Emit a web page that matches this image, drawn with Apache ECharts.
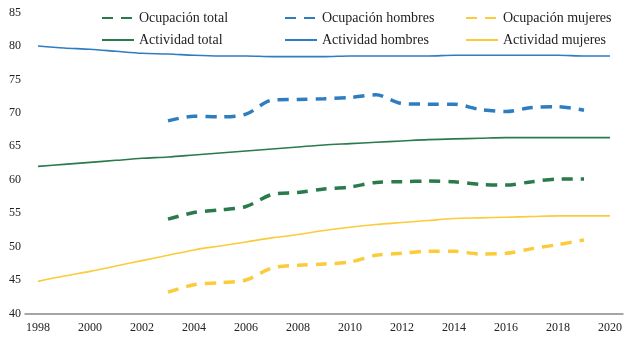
<!DOCTYPE html>
<html>
<head>
<meta charset="utf-8">
<script src="https://cdn.jsdelivr.net/npm/echarts@6/dist/echarts.min.js"></script>
<style>
  html, body { margin: 0; padding: 0; background: #fff; }
  #chart { width: 627px; height: 338px; }
</style>
</head>
<body>
<div id="chart"></div>
<script>
// años
const years = ['1998','1999','2000','2001','2002','2003','2004','2005','2006','2007','2008','2009','2010','2011','2012','2013','2014','2015','2016','2017','2018','2019','2020']

// tasas de ocupación (desde 2003)
const ocupacionTotal   = [null,null,null,null,null,54.1,55.1,55.5,56.0,57.8,58.1,58.6,58.9,59.6,59.7,59.8,59.7,59.3,59.2,59.7,60.1,60.1,null]
const ocupacionHombres = [null,null,null,null,null,68.8,69.5,69.4,69.8,71.9,72.0,72.1,72.3,72.7,71.4,71.3,71.3,70.5,70.2,70.8,70.9,70.4,null]
const ocupacionMujeres = [null,null,null,null,null,43.2,44.3,44.6,45.0,46.8,47.2,47.4,47.7,48.7,49.0,49.3,49.3,48.9,49.0,49.7,50.3,51.0,null]

// tasas de actividad
const actividadTotal   = [62.0,62.3,62.6,62.9,63.2,63.4,63.7,64.0,64.3,64.6,64.9,65.2,65.4,65.6,65.8,66.0,66.1,66.2,66.3,66.3,66.3,66.3,66.3]
const actividadHombres = [80.0,79.7,79.5,79.2,78.9,78.8,78.6,78.5,78.5,78.4,78.4,78.4,78.5,78.5,78.5,78.5,78.6,78.6,78.6,78.6,78.6,78.5,78.5]
const actividadMujeres = [44.8,45.6,46.3,47.1,47.9,48.7,49.5,50.1,50.7,51.3,51.8,52.4,52.9,53.3,53.6,53.9,54.2,54.3,54.4,54.5,54.6,54.6,54.6]

const GREEN = '#2a7a4c'
const BLUE = '#2f7dc1'
const YELLOW = '#fbcb3a'
const FONT = '"Liberation Serif", "DejaVu Serif", serif'

const dashed = (name, data, color) => ({
  name,
  type: 'line',
  data,
  smooth: 0.3,
  symbol: 'none',
  connectNulls: false,
  lineStyle: { color, width: 3.5, type: [11, 8] },
  itemStyle: { color }
})

const solid = (name, data, color) => ({
  name,
  type: 'line',
  data,
  smooth: 0.3,
  symbol: 'none',
  lineStyle: { color, width: 1.6 },
  itemStyle: { color }
})

// leyenda: solo la línea, sin el símbolo
const legendBase = {
  orient: 'vertical',
  top: 11,
  padding: 0,
  itemWidth: 32,
  itemHeight: 14,
  itemGap: 8,
  itemStyle: { opacity: 0 },
  textStyle: { fontFamily: FONT, fontSize: 14, color: '#222' }
}

const chart = echarts.init(document.getElementById('chart'))
chart.setOption({
  animation: false,
  backgroundColor: '#fff',
  grid: { left: 25, right: 4, top: 12.5, bottom: 24.5, containLabel: false },
  legend: [
    { ...legendBase, left: 101, data: ['Ocupación total', 'Actividad total'] },
    { ...legendBase, left: 284, data: ['Ocupación hombres', 'Actividad hombres'] },
    { ...legendBase, left: 465, data: ['Ocupación mujeres', 'Actividad mujeres'] }
  ],
  xAxis: {
    type: 'category',
    data: years,
    boundaryGap: true,
    axisLine: { lineStyle: { color: '#888', width: 1.5 } },
    axisTick: { show: false },
    axisLabel: { interval: 1, fontFamily: FONT, fontSize: 12, color: '#222', margin: 8 }
  },
  yAxis: {
    type: 'value',
    min: 40,
    max: 85,
    interval: 5,
    axisLine: { show: false },
    axisTick: { show: false },
    splitLine: { show: false },
    axisLabel: { fontFamily: FONT, fontSize: 12, color: '#222', margin: 4 }
  },
  series: [
    dashed('Ocupación total', ocupacionTotal, GREEN),
    dashed('Ocupación hombres', ocupacionHombres, BLUE),
    dashed('Ocupación mujeres', ocupacionMujeres, YELLOW),
    solid('Actividad total', actividadTotal, GREEN),
    solid('Actividad hombres', actividadHombres, BLUE),
    solid('Actividad mujeres', actividadMujeres, YELLOW)
  ]
})
</script>
</body>
</html>
